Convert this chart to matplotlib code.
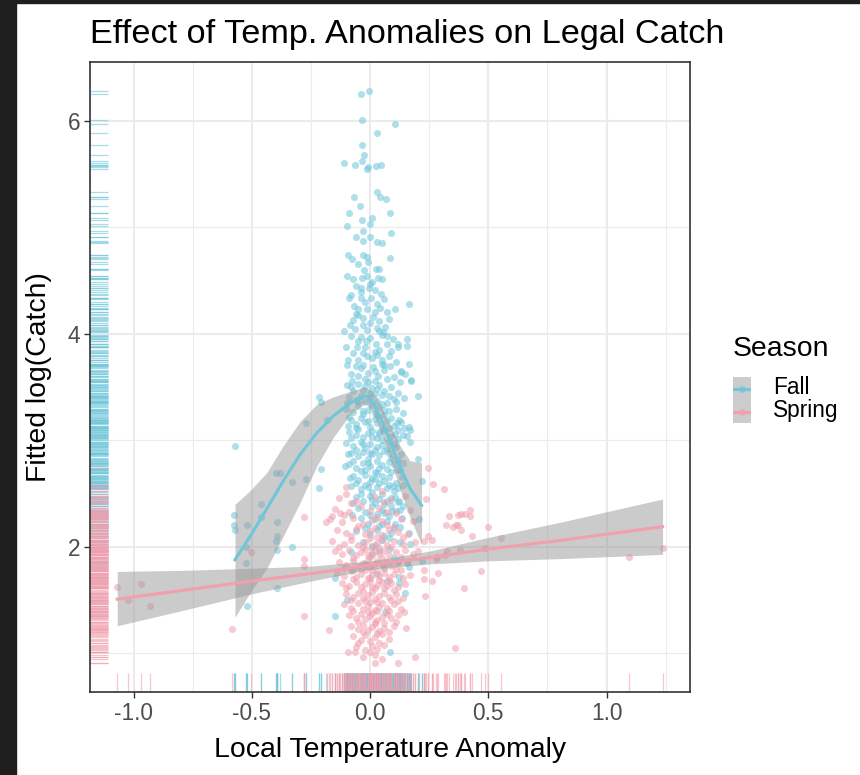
import numpy as np
import matplotlib
matplotlib.use("Agg")
import matplotlib.pyplot as plt
from matplotlib.patches import Rectangle

plt.rcParams['font.family'] = ['Liberation Sans', 'DejaVu Sans']

# Colours for the two seasons
fall_col = '#6EC6DA'
spring_col = '#F29FAE'

# Fall points (x = local temp anomaly, y = fitted log catch)
fall_pts = [
    (-0.039, 6.25), (-0.004, 6.28), (-0.035, 6.01), (0.106, 5.97), (0.031, 5.89), (-0.033, 5.77),
    (-0.024, 5.68), (-0.109, 5.61), (-0.063, 5.59), (-0.035, 5.62), (-0.007, 5.57), (-0.011, 5.55),
    (0.025, 5.58), (0.047, 5.59), (-0.069, 5.29), (0.031, 5.33), (0.042, 5.29), (0.068, 5.27),
    (-0.044, 5.20), (-0.090, 5.14), (0.085, 5.14), (-0.034, 5.07), (0.008, 5.09), (-0.001, 5.03),
    (-0.099, 5.01), (-0.028, 4.97), (0.089, 4.95), (-0.058, 4.91), (0.000, 4.91), (-0.031, 4.87),
    (0.031, 4.86), (0.051, 4.85), (-0.093, 4.74), (-0.075, 4.70), (-0.031, 4.74), (-0.011, 4.72),
    (-0.049, 4.66), (-0.007, 4.68), (0.085, 4.71), (-0.024, 4.60), (0.024, 4.61), (0.039, 4.61),
    (-0.096, 4.54), (-0.070, 4.52), (-0.035, 4.53), (-0.014, 4.54), (0.033, 4.53), (0.049, 4.52),
    (0.010, 4.49), (-0.037, 4.43), (-0.003, 4.43), (0.045, 4.38), (-0.090, 4.34), (-0.080, 4.37),
    (-0.038, 4.34), (0.006, 4.34), (-0.068, 4.26), (-0.049, 4.23), (-0.011, 4.23), (0.044, 4.24),
    (0.071, 4.21), (0.106, 4.23), (0.165, 4.28), (-0.073, 4.13), (-0.028, 4.15), (0.014, 4.16),
    (0.037, 4.12), (-0.109, 4.03), (-0.063, 4.05), (-0.014, 4.04), (0.039, 4.03), (0.063, 4.07),
    (0.155, 3.95), (0.158, 3.89), (0.117, 3.88), (0.099, 3.95), (-0.039, 3.97), (0.000, 3.96),
    (0.025, 3.91), (0.070, 3.91), (-0.056, 3.88), (-0.092, 3.76), (-0.099, 3.71), (-0.049, 3.76),
    (-0.014, 3.79), (0.028, 3.80), (0.049, 3.76), (0.061, 3.71), (0.165, 3.72), (0.132, 3.65),
    (-0.028, 3.71), (0.014, 3.69), (-0.049, 3.61), (0.035, 3.61), (0.173, 3.57),
    (-0.06, 4.45), (0.02, 4.41), (-0.02, 4.30), (0.03, 4.28), (-0.05, 4.18), (0.00, 4.10),
    (-0.08, 3.98), (0.05, 3.99), (-0.02, 3.88), (0.04, 3.85), (-0.07, 3.82), (0.01, 3.77),
    (0.08, 3.79), (-0.04, 3.68), (0.06, 3.66), (-0.01, 3.63), (0.10, 3.60), (-0.08, 3.62), (0.02, 3.56),
    (0.00, 4.47), (-0.04, 4.39), (0.06, 4.33), (-0.06, 4.19), (0.02, 4.21), (0.08, 4.14),
    (-0.03, 4.08), (0.03, 4.06), (-0.05, 3.93), (0.07, 3.98), (0.12, 3.91), (-0.10, 3.88),
    (0.02, 3.83), (0.09, 3.84), (-0.03, 3.82), (0.05, 3.72), (-0.06, 3.70), (0.11, 3.74),
    (0.02, 3.65), (-0.02, 3.58), (0.07, 3.58), (0.15, 3.62),
    (-0.571, 2.95), (-0.574, 2.30), (-0.574, 2.21), (-0.571, 2.16), (-0.521, 2.21), (-0.526, 2.00),
    (-0.526, 1.85), (-0.521, 1.45), (-0.460, 2.40), (-0.461, 2.28), (-0.395, 2.23), (-0.395, 2.10),
    (-0.396, 2.06), (-0.392, 1.97), (-0.392, 1.61), (-0.397, 2.69), (-0.381, 2.69), (-0.331, 2.61),
    (-0.331, 2.00), (-0.272, 3.16), (-0.272, 2.64), (-0.216, 3.41), (-0.207, 3.36), (-0.207, 2.73),
    (-0.216, 2.55), (-0.180, 3.19), (-0.148, 1.71), (-0.149, 1.35), (-0.099, 3.52), (-0.099, 3.35),
    (-0.106, 2.76), (-0.099, 1.50), (0.063, 1.39), (0.085, 1.01), (0.148, 1.57), (0.173, 3.56),
    (0.203, 3.42), (0.132, 3.64), (0.204, 2.83), (0.218, 2.62), (0.206, 2.26), (0.220, 1.87),
    (0.169, 2.03), (0.165, 2.13), (0.134, 2.27), (0.127, 2.35), (0.141, 2.38), (0.169, 3.10),
    (0.164, 3.13), (0.155, 3.04), (0.169, 2.99), (0.124, 3.19), (0.113, 3.16), (0.127, 2.72),
    (0.141, 2.79), (0.099, 2.57), (0.106, 2.47), (0.121, 2.43), (0.106, 2.22), (0.127, 2.19),
    (0.155, 1.85), (0.166, 1.81), (0.124, 1.72), (0.121, 1.66),
    (-0.08, 3.50), (-0.05, 3.53), (-0.03, 3.47), (-0.01, 3.55), (0.01, 3.49), (0.02, 3.44),
    (0.04, 3.52), (0.06, 3.46), (0.09, 3.50), (0.12, 3.45), (-0.09, 3.41), (-0.06, 3.38),
    (-0.04, 3.42), (-0.02, 3.36), (0.00, 3.40), (0.03, 3.37), (0.05, 3.43), (0.07, 3.35),
    (0.10, 3.39), (-0.10, 3.30), (-0.07, 3.27), (-0.05, 3.32), (-0.03, 3.25), (-0.01, 3.29),
    (0.01, 3.33), (0.02, 3.26), (0.04, 3.31), (0.06, 3.24), (0.08, 3.28), (0.11, 3.30),
    (0.14, 3.26), (-0.08, 3.19), (-0.06, 3.15), (-0.04, 3.21), (-0.02, 3.17), (0.00, 3.13),
    (0.02, 3.20), (0.03, 3.16), (0.05, 3.12), (0.07, 3.18), (0.10, 3.14), (0.12, 3.10),
    (-0.09, 3.08), (-0.06, 3.05), (-0.05, 3.11), (-0.03, 3.03), (-0.01, 3.07), (0.01, 3.09),
    (0.03, 3.02), (0.04, 3.06), (0.06, 3.10), (0.09, 3.04), (0.12, 3.01), (-0.10, 2.98),
    (-0.07, 2.95), (-0.04, 2.99), (-0.02, 2.93), (0.00, 2.97), (0.02, 2.91), (0.05, 2.96),
    (0.07, 2.92), (0.08, 2.99), (0.11, 2.94), (-0.08, 2.88), (-0.05, 2.85), (-0.03, 2.89),
    (-0.01, 2.83), (0.01, 2.87), (0.03, 2.81), (0.04, 2.86), (0.06, 2.90), (0.09, 2.84),
    (0.13, 2.87), (-0.09, 2.78), (-0.06, 2.74), (-0.03, 2.79), (-0.02, 2.72), (0.00, 2.76),
    (0.02, 2.70), (0.05, 2.77), (0.07, 2.73), (0.10, 2.78), (-0.07, 2.67), (-0.05, 2.63),
    (-0.02, 2.68), (0.00, 2.61), (0.01, 2.65), (0.03, 2.69), (0.06, 2.62), (0.08, 2.66),
    (0.11, 2.60), (-0.08, 2.57), (-0.04, 2.54), (-0.02, 2.58), (0.01, 2.52), (0.03, 2.56),
    (0.05, 2.50), (0.07, 2.55), (0.10, 2.53), (0.14, 2.58), (-0.06, 2.47), (-0.03, 2.43),
    (0.00, 2.48), (0.02, 2.41), (0.04, 2.45), (0.06, 2.40), (0.09, 2.46), (0.12, 2.42),
    (-0.05, 2.37), (-0.02, 2.33), (0.01, 2.38), (0.03, 2.31), (0.05, 2.35), (0.08, 2.29),
    (0.11, 2.34), (-0.04, 2.27), (-0.01, 2.22), (0.02, 2.26), (0.04, 2.20), (0.07, 2.24),
    (0.10, 2.18), (-0.06, 2.15), (0.00, 2.12), (0.03, 2.16), (0.06, 2.10), (0.09, 2.13),
    (-0.03, 2.05), (0.02, 2.02), (0.05, 2.07), (0.08, 1.98), (-0.08, 1.95), (0.01, 1.92),
    (0.04, 1.96), (0.10, 1.90), (-0.02, 1.84), (0.06, 1.80), (0.12, 1.86), (0.03, 1.75),
    (-0.07, 1.78), (0.07, 1.68),
    (-0.07, 3.46), (-0.02, 3.51), (0.03, 3.48), (0.08, 3.42), (0.11, 3.36), (-0.05, 3.37),
    (0.00, 3.45), (0.05, 3.34), (-0.09, 3.22), (-0.03, 3.28), (0.03, 3.23), (0.06, 3.29),
    (0.09, 3.21), (0.13, 3.17), (-0.06, 3.12), (-0.01, 3.18), (0.04, 3.08), (0.08, 3.12),
    (-0.08, 3.02), (-0.03, 2.97), (0.01, 3.03), (0.05, 3.00), (0.10, 2.97), (0.14, 3.05),
    (-0.06, 2.91), (0.00, 2.88), (0.03, 2.94), (0.08, 2.88), (0.12, 2.82), (-0.07, 2.81),
    (-0.01, 2.79), (0.04, 2.74), (0.08, 2.80), (-0.04, 2.71), (0.02, 2.64), (0.05, 2.67),
    (0.09, 2.70), (-0.06, 2.60), (-0.01, 2.56), (0.04, 2.60), (0.08, 2.58), (0.12, 2.55),
    (-0.04, 2.50), (0.01, 2.45), (0.07, 2.43), (-0.07, 2.41), (0.00, 2.30), (0.06, 2.32),
    (0.09, 2.38), (-0.02, 2.18), (0.05, 2.22), (0.08, 2.08), (0.01, 2.00),
    (-0.085, 4.08), (0.055, 4.02), (-0.015, 3.93), (0.085, 3.70), (-0.075, 3.56), (0.125, 3.55),
    (0.145, 3.40), (-0.095, 3.14), (0.145, 3.12), (0.105, 3.06), (-0.095, 2.87), (0.115, 2.72),
    (-0.085, 2.65), (0.135, 2.66), (0.095, 2.34), (-0.075, 2.30), (0.125, 2.05),
]

# Spring points
spring_pts = [
    (-1.07, 1.62), (-1.025, 1.50), (-0.97, 1.65), (-0.93, 1.45),
    (-0.585, 1.23), (-0.503, 1.95), (-0.278, 2.28), (-0.278, 1.89), (-0.278, 1.82), (-0.278, 1.35),
    (-0.175, 1.22), (-0.186, 2.23), (-0.162, 2.29), (-0.128, 2.32), (-0.103, 2.50), (-0.092, 1.01),
    (-0.063, 1.01), (0.021, 0.91), (0.117, 0.91), (0.190, 0.97),
    (0.244, 2.74), (0.268, 2.59), (0.312, 2.54), (0.237, 2.45), (0.335, 2.29), (0.320, 2.21),
    (0.352, 2.19), (0.373, 2.21), (0.373, 2.30), (0.244, 2.10), (0.263, 2.07), (0.228, 2.06),
    (0.202, 1.96), (0.285, 1.91), (0.324, 1.96), (0.228, 1.78), (0.289, 1.76), (0.228, 1.70),
    (0.261, 1.68), (0.233, 1.54), (0.359, 1.05), (0.422, 2.35), (0.383, 2.31), (0.402, 2.31),
    (0.423, 2.29), (0.364, 2.21), (0.383, 2.16), (0.500, 2.19), (0.430, 2.10), (0.553, 2.08),
    (0.381, 1.97), (0.486, 1.99), (0.317, 1.92), (0.278, 1.89), (1.237, 1.99), (1.096, 1.91),
    (0.469, 1.77), (0.397, 1.61), (0.144, 1.39), (0.151, 1.24),
    (-0.10, 2.56), (0.05, 2.53),
    (-0.13, 2.46), (-0.06, 2.43), (0.02, 2.47), (0.09, 2.44), (0.15, 2.48),
    (-0.15, 2.36), (-0.09, 2.33), (-0.04, 2.38), (0.00, 2.34), (0.04, 2.37), (0.11, 2.32), (0.17, 2.35),
    (-0.17, 2.26), (-0.12, 2.23), (-0.07, 2.27), (-0.03, 2.22), (0.01, 2.25), (0.03, 2.28),
    (0.07, 2.21), (0.13, 2.26), (0.18, 2.24),
    (-0.14, 2.16), (-0.10, 2.13), (-0.06, 2.17), (-0.02, 2.12), (0.00, 2.15), (0.02, 2.18),
    (0.05, 2.11), (0.08, 2.16), (0.12, 2.14), (0.16, 2.12),
    (-0.16, 2.06), (-0.11, 2.03), (-0.08, 2.07), (-0.05, 2.02), (-0.02, 2.05), (0.00, 2.08),
    (0.01, 2.01), (0.03, 2.04), (0.05, 2.07), (0.07, 2.02), (0.10, 2.06), (0.14, 2.03), (0.19, 2.05),
    (-0.15, 1.96), (-0.12, 1.93), (-0.09, 1.97), (-0.06, 1.92), (-0.04, 1.95), (-0.02, 1.98),
    (0.00, 1.91), (0.01, 1.94), (0.02, 1.97), (0.04, 1.93), (0.06, 1.96), (0.08, 1.92),
    (0.11, 1.95), (0.15, 1.97), (0.18, 1.93),
    (-0.13, 1.86), (-0.10, 1.83), (-0.07, 1.87), (-0.05, 1.82), (-0.03, 1.85), (-0.01, 1.88),
    (0.00, 1.81), (0.02, 1.84), (0.03, 1.87), (0.05, 1.83), (0.07, 1.86), (0.09, 1.82),
    (0.12, 1.85), (0.16, 1.87),
    (-0.14, 1.76), (-0.11, 1.73), (-0.08, 1.77), (-0.06, 1.72), (-0.04, 1.75), (-0.02, 1.78),
    (0.00, 1.71), (0.01, 1.74), (0.03, 1.77), (0.04, 1.73), (0.06, 1.76), (0.08, 1.72),
    (0.10, 1.75), (0.13, 1.78), (0.17, 1.74),
    (-0.12, 1.66), (-0.09, 1.63), (-0.06, 1.67), (-0.04, 1.62), (-0.02, 1.65), (0.00, 1.68),
    (0.02, 1.61), (0.03, 1.64), (0.05, 1.67), (0.07, 1.63), (0.09, 1.66), (0.12, 1.62), (0.15, 1.65),
    (-0.10, 1.56), (-0.07, 1.53), (-0.05, 1.57), (-0.03, 1.52), (-0.01, 1.55), (0.01, 1.58),
    (0.02, 1.51), (0.04, 1.54), (0.06, 1.57), (0.08, 1.53), (0.11, 1.56), (0.14, 1.52),
    (-0.11, 1.46), (-0.08, 1.43), (-0.05, 1.47), (-0.03, 1.42), (-0.01, 1.45), (0.00, 1.48),
    (0.02, 1.41), (0.04, 1.44), (0.05, 1.47), (0.07, 1.43), (0.10, 1.46), (0.13, 1.42),
    (-0.09, 1.36), (-0.06, 1.33), (-0.04, 1.37), (-0.02, 1.32), (0.00, 1.35), (0.01, 1.38),
    (0.03, 1.31), (0.05, 1.34), (0.07, 1.37), (0.09, 1.33), (0.12, 1.36),
    (-0.08, 1.26), (-0.05, 1.23), (-0.03, 1.27), (-0.01, 1.22), (0.01, 1.25), (0.02, 1.28),
    (0.04, 1.21), (0.06, 1.24), (0.10, 1.26),
    (-0.07, 1.16), (-0.04, 1.13), (-0.02, 1.17), (0.00, 1.12), (0.02, 1.15), (0.05, 1.18), (0.08, 1.14),
    (-0.06, 1.06), (-0.02, 1.03), (0.01, 1.07), (0.03, 1.04), (0.06, 1.08),
    (-0.03, 0.97), (0.02, 0.99), (0.05, 0.95),
    (-0.08, 2.41), (0.06, 2.42), (-0.11, 2.30), (0.07, 2.33), (-0.05, 2.20), (0.05, 2.24),
    (0.10, 2.19), (-0.08, 2.10), (0.03, 2.09), (0.14, 2.09), (-0.13, 2.00), (-0.03, 2.00),
    (0.04, 1.99), (0.09, 2.00), (-0.07, 1.90), (-0.01, 1.92), (0.05, 1.90), (0.13, 1.91),
    (-0.11, 1.80), (-0.04, 1.79), (0.01, 1.78), (0.06, 1.80), (0.11, 1.79), (-0.07, 1.70),
    (-0.01, 1.71), (0.04, 1.69), (0.08, 1.69), (0.14, 1.71), (-0.10, 1.61), (-0.03, 1.59),
    (0.01, 1.62), (0.06, 1.61), (0.10, 1.60), (-0.08, 1.50), (-0.02, 1.49), (0.03, 1.48),
    (0.09, 1.50), (0.12, 1.49), (-0.07, 1.40), (-0.01, 1.39), (0.03, 1.40), (0.08, 1.40),
    (-0.05, 1.30), (0.02, 1.30), (0.06, 1.29), (0.11, 1.30), (-0.03, 1.20), (0.03, 1.19),
    (0.08, 1.20), (-0.05, 1.10), (0.04, 1.10), (0.00, 1.01),
]

# Loess fit for Fall with its confidence band
fall_fit_x = [-0.571, -0.507, -0.436, -0.367, -0.295, -0.225, -0.155, -0.085, -0.042, -0.018,
              0.014, 0.049, 0.085, 0.127, 0.169, 0.218]
fall_fit_y = [1.88, 2.10, 2.36, 2.62, 2.87, 3.07, 3.23, 3.35, 3.40, 3.42,
              3.35, 3.19, 2.99, 2.75, 2.55, 2.39]
fall_fit_hi = [2.40, 2.53, 2.70, 2.95, 3.18, 3.34, 3.41, 3.46, 3.49, 3.50,
               3.45, 3.31, 3.15, 2.95, 2.81, 2.79]
fall_fit_lo = [1.34, 1.57, 1.80, 2.10, 2.42, 2.76, 3.03, 3.24, 3.32, 3.35,
               3.26, 3.06, 2.83, 2.54, 2.28, 2.02]

# Linear fit for Spring with its confidence band
spring_fit_x = [-1.069, -0.8, -0.5, -0.25, 0.0, 0.25, 0.5, 0.8, 1.237]
spring_fit_y = [1.51, 1.59, 1.68, 1.75, 1.83, 1.90, 1.98, 2.06, 2.19]
spring_fit_hi = [1.77, 1.78, 1.80, 1.82, 1.87, 1.96, 2.09, 2.23, 2.45]
spring_fit_lo = [1.26, 1.40, 1.56, 1.68, 1.79, 1.84, 1.87, 1.89, 1.93]

x_ticks = [-1.0, -0.5, 0.0, 0.5, 1.0]
x_minor = [-0.75, -0.25, 0.25, 0.75, 1.25]
y_ticks = [2, 4, 6]
y_minor = [1, 3, 5]

fall = np.array(fall_pts)
spring = np.array(spring_pts)

W, H = 860, 775
fig = plt.figure(figsize=(W / 100, H / 100), dpi=100)
fig.patch.set_facecolor('white')

# dark screenshot edges
fig.patches.append(Rectangle((0, 0), 16 / W, 1, transform=fig.transFigure, color='#1F1F1F', zorder=0))
fig.patches.append(Rectangle((0, 1 - 3 / H), 1, 3 / H, transform=fig.transFigure, color='#1F1F1F', zorder=0))

ax = fig.add_axes([90 / W, 83 / H, 600 / W, 630 / H])
ax.set_xlim(-1.184, 1.353)
ax.set_ylim(0.638, 6.554)

# theme_bw style grid
for v in x_minor:
    ax.axvline(v, color='#EBEBEB', lw=0.8, zorder=0)
for v in y_minor:
    ax.axhline(v, color='#EBEBEB', lw=0.8, zorder=0)
for v in x_ticks:
    ax.axvline(v, color='#EBEBEB', lw=1.5, zorder=0)
for v in y_ticks:
    ax.axhline(v, color='#EBEBEB', lw=1.5, zorder=0)

# points
ax.scatter(fall[:, 0], fall[:, 1], s=26, color=fall_col, alpha=0.55, lw=0, zorder=2)
ax.scatter(spring[:, 0], spring[:, 1], s=26, color=spring_col, alpha=0.55, lw=0, zorder=2)

# rugs
for pts, col in [(fall, fall_col), (spring, spring_col)]:
    ax.hlines(pts[:, 1], 0, 0.03, transform=ax.get_yaxis_transform(), color=col, lw=0.9, alpha=0.6, zorder=2)
    ax.vlines(pts[:, 0], 0, 0.03, transform=ax.get_xaxis_transform(), color=col, lw=0.9, alpha=0.6, zorder=2)

# smooths
ax.fill_between(fall_fit_x, fall_fit_lo, fall_fit_hi, color='#999999', alpha=0.5, lw=0, zorder=3)
ax.fill_between(spring_fit_x, spring_fit_lo, spring_fit_hi, color='#999999', alpha=0.5, lw=0, zorder=3)
ax.plot(fall_fit_x, fall_fit_y, color=fall_col, lw=2.2, zorder=4)
ax.plot(spring_fit_x, spring_fit_y, color=spring_col, lw=2.2, zorder=4)

ax.set_xticks(x_ticks)
ax.set_xticklabels(['-1.0', '-0.5', '0.0', '0.5', '1.0'])
ax.set_yticks(y_ticks)
ax.tick_params(labelsize=16.3, labelcolor='#4D4D4D', color='#333333', length=4, width=1, pad=3)
for s in ax.spines.values():
    s.set_color('#333333')
    s.set_linewidth(1.2)

# titles
fig.text(90 / W, 1 - 43 / H, 'Effect of Temp. Anomalies on Legal Catch', fontsize=24.7, va='baseline', ha='left')
fig.text(390 / W, 1 - 757 / H, 'Local Temperature Anomaly', fontsize=20.4, va='baseline', ha='center')
fig.text(39 / W, 1 - 377 / H, 'Fitted log(Catch)', fontsize=20.4, rotation=90, va='center', ha='center')

# legend
fig.text(733 / W, 1 - 349 / H, 'Season', fontsize=20.4, va='center', ha='left')
lax = fig.add_axes([733 / W, 1 - 423 / H, 18 / W, 46 / H])
lax.set_xlim(0, 1)
lax.set_ylim(0, 2)
lax.set_facecolor('#CCCCCC')
lax.set_xticks([])
lax.set_yticks([])
for s in lax.spines.values():
    s.set_visible(False)
lax.plot([0.05, 0.95], [1.5, 1.5], color=fall_col, lw=2.2)
lax.plot([0.5], [1.5], 'o', color=fall_col, ms=4, alpha=0.6)
lax.plot([0.05, 0.95], [0.5, 0.5], color=spring_col, lw=2.2)
lax.plot([0.5], [0.5], 'o', color=spring_col, ms=4, alpha=0.6)
fig.text(773 / W, 1 - 388 / H, 'Fall', fontsize=16.3, va='center', ha='left')
fig.text(773 / W, 1 - 411 / H, 'Spring', fontsize=16.3, va='center', ha='left')

fig.savefig('out.png', dpi=100)
